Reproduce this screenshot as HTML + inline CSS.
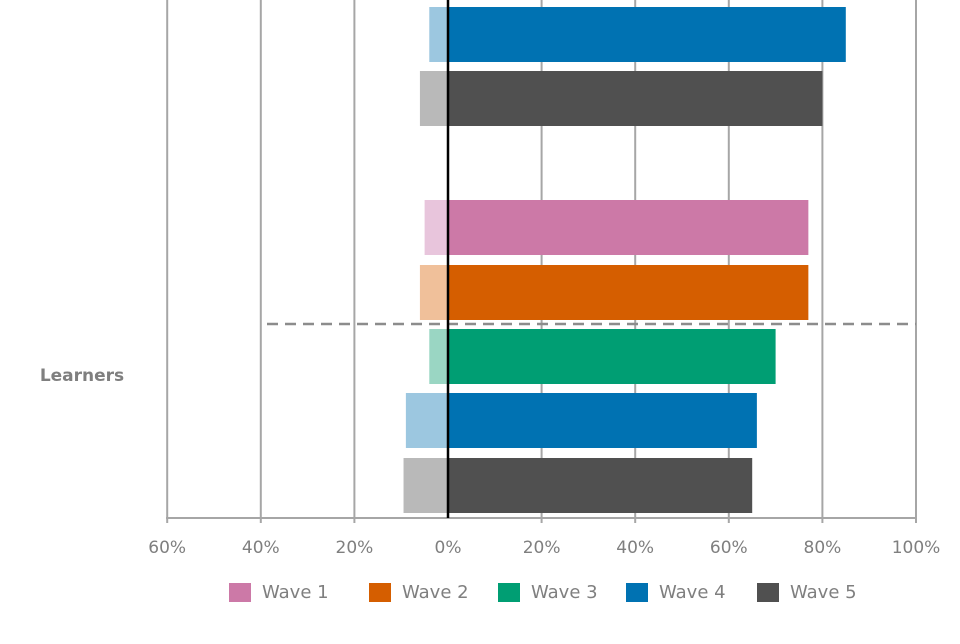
<!DOCTYPE html>
<html><head><meta charset="utf-8"><style>
body{margin:0;background:#fff;width:960px;height:640px;overflow:hidden;font-family:"DejaVu Sans","Liberation Sans",sans-serif}
text{font-family:"DejaVu Sans","Liberation Sans",sans-serif}
</style></head><body>
<svg id="chart" width="960" height="640" xmlns="http://www.w3.org/2000/svg"></svg>
<script>
const categories=["Top W4","Top W5","Learners W1","Learners W2","Learners W3","Learners W4","Learners W5"];
const waveIndex=[3,4,0,1,2,3,4];
const positiveValues=[85,80,77,77,70,66,65];
const negativeValues=[4,6,5,6,4,9,9.5];
const tickValues=[-60,-40,-20,0,20,40,60,80,100];
const tickLabels=["60%","40%","20%","0%","20%","40%","60%","80%","100%"];
const waveNames=["Wave 1","Wave 2","Wave 3","Wave 4","Wave 5"];
const dark=["#cc79a7","#d55e00","#009e73","#0072b2","#505050"];
const light=["#e8c5dc","#f0c09a","#9ad6c3","#9cc7e0","#b9b9b9"];
const barTops=[7,71,200,265,329,393,458];
const svg=document.getElementById('chart');
const NS="http://www.w3.org/2000/svg";
const x=v=>448+v*4.68;
function mk(t,a){const e=document.createElementNS(NS,t);for(const k in a)e.setAttribute(k,a[k]);svg.appendChild(e);return e;}
tickValues.forEach((v,i)=>{
 if(v!==0){const g=mk('line',{x1:x(v),x2:x(v),y1:0,y2:523,stroke:'#a6a6a6','stroke-width':2});
 
 }
 const t=mk('text',{x:x(v),y:553,'text-anchor':'middle','font-size':17,fill:'#7f7f7f'});t.textContent=tickLabels[i];
 
 
});
const ax=mk('line',{x1:166,x2:917,y1:518,y2:518,stroke:'#a6a6a6','stroke-width':2});


categories.forEach((c,i)=>{
 const w=waveIndex[i];const y=barTops[i];
 const n=mk('rect',{x:x(-negativeValues[i]),y:y,width:x(0)-x(-negativeValues[i]),height:55,fill:light[w]});
 
 
 const p=mk('rect',{x:x(0),y:y,width:x(positiveValues[i])-x(0),height:55,fill:dark[w]});
 
 
});
const d=mk('line',{x1:267,x2:916,y1:324,y2:324,stroke:'#8c8c8c','stroke-width':2.5,'stroke-dasharray':'11,7'});


const z=mk('line',{x1:448,x2:448,y1:0,y2:518,stroke:'#000','stroke-width':2.5});


const lab=mk('text',{x:82,y:381,'text-anchor':'middle','font-size':17,'font-weight':'bold',fill:'#7f7f7f'});lab.textContent="Learners";


const lx=[229,369,498,626,757];
waveNames.forEach((nm,i)=>{
 const r=mk('rect',{x:lx[i],y:583,width:22,height:19,fill:dark[i]});
 
 
 const t=mk('text',{x:lx[i]+33,y:598,'font-size':18,fill:'#7f7f7f'});t.textContent=nm;
 
 
});
</script>
</body></html>
